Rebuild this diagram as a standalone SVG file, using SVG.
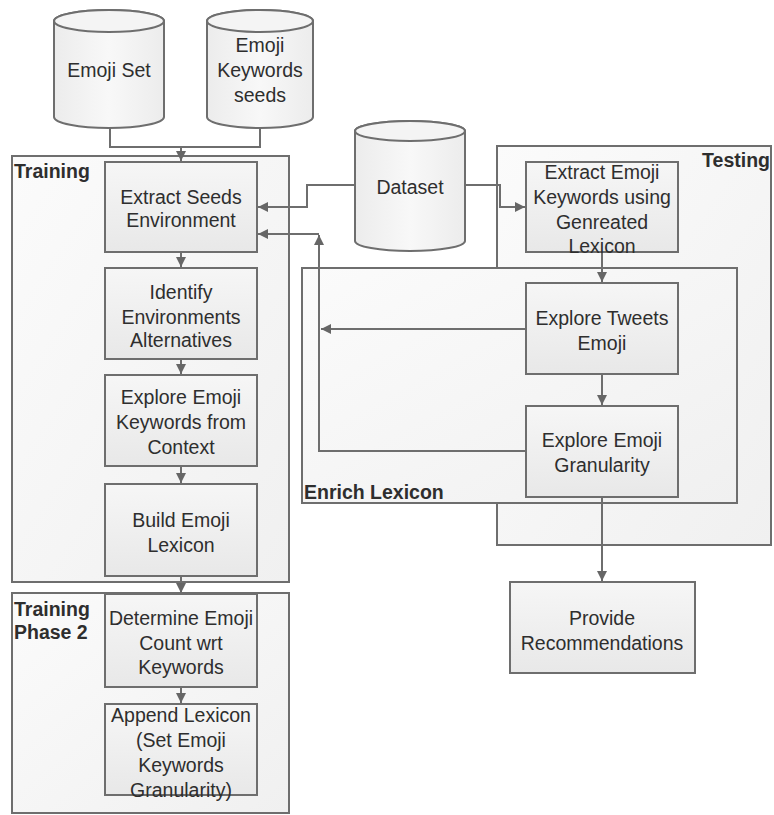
<svg xmlns="http://www.w3.org/2000/svg" width="774" height="815" viewBox="0 0 774 815">
<defs>
<linearGradient id="gBox" x1="0" y1="0" x2="0" y2="1">
<stop offset="0" stop-color="#f6f6f6"/><stop offset="1" stop-color="#e8e8e8"/>
</linearGradient>
<linearGradient id="gGrp" x1="0" y1="0" x2="1" y2="1">
<stop offset="0" stop-color="#fbfbfb"/><stop offset="1" stop-color="#f0f0f0"/>
</linearGradient>
<linearGradient id="gCyl" x1="0" y1="0" x2="1" y2="0">
<stop offset="0" stop-color="#ececec"/><stop offset="0.5" stop-color="#f8f8f8"/><stop offset="1" stop-color="#ececec"/>
</linearGradient>
<marker id="arr" markerUnits="userSpaceOnUse" markerWidth="11" markerHeight="10" refX="10" refY="5" orient="auto">
<path d="M0,0 L10,5 L0,10 z" fill="#666"/>
</marker>
</defs>
<style>
.grp{fill:url(#gGrp);stroke:#6e6e6e;stroke-width:2}
.box{fill:url(#gBox);stroke:#6e6e6e;stroke-width:2}
.cyl{fill:url(#gCyl);stroke:#6e6e6e;stroke-width:2}
.t{font-family:"Liberation Sans",Arial,sans-serif;font-size:19.5px;fill:#2e2e2e;text-anchor:middle}
.lbl{font-family:"Liberation Sans",Arial,sans-serif;font-size:19.5px;font-weight:bold;fill:#2e2e2e}
.c{fill:none;stroke:#6e6e6e;stroke-width:2}
.ca{fill:none;stroke:#6e6e6e;stroke-width:2;marker-end:url(#arr)}
</style>
<rect width="774" height="815" fill="#ffffff"/>

<g id="training">
<rect class="grp" x="12" y="156" width="277" height="426"/>
<text class="lbl" x="14" y="178">Training</text>
</g>
<g id="training-phase-2">
<rect class="grp" x="12" y="593" width="277" height="220"/>
<text class="lbl" x="14" y="616">Training</text>
<text class="lbl" x="14" y="639">Phase 2</text>
</g>
<g id="testing">
<rect class="grp" x="497" y="146" width="274" height="399"/>
<text class="lbl" x="770" y="167" text-anchor="end">Testing</text>
</g>
<g id="enrich-lexicon">
<rect class="grp" x="302" y="268" width="435" height="235"/>
<text class="lbl" x="304" y="499">Enrich Lexicon</text>
</g>

<g id="connectors">
<path class="c" d="M110,128 V147 H260 V128"/>
<path class="ca" d="M181,147 V161"/>
<path class="ca" d="M355,185 H307 V207 H258"/>
<path class="ca" d="M465,185 H500 V207 H525"/>
<path class="ca" d="M181,252 V267"/>
<path class="ca" d="M181,359 V374"/>
<path class="ca" d="M181,466 V483"/>
<path class="ca" d="M181,576 V593"/>
<path class="ca" d="M181,687 V703"/>
<path class="ca" d="M602,252 V282"/>
<path class="ca" d="M602,374 V405"/>
<path class="ca" d="M602,497 V581"/>
<path class="ca" d="M526,329 H321"/>
<path class="ca" d="M526,451 H319 V235"/>
<path class="ca" d="M319,234 H258"/>
</g>

<g id="emoji-set">
<path class="cyl" d="M54,21 V117 A55,11 0 0 0 164,117 V21 A55,11 0 0 0 54,21 Z"/>
<ellipse cx="109" cy="21" rx="55" ry="11" fill="#f4f4f4" stroke="#6e6e6e" stroke-width="2"/>
<text class="t" x="109" y="77" font-size="18.5">Emoji Set</text>
</g>
<g id="emoji-keywords-seeds">
<path class="cyl" d="M207,21 V117 A53,11 0 0 0 313,117 V21 A53,11 0 0 0 207,21 Z"/>
<ellipse cx="260" cy="21" rx="53" ry="11" fill="#f4f4f4" stroke="#6e6e6e" stroke-width="2"/>
<text class="t" x="260" y="52">Emoji</text>
<text class="t" x="260" y="77">Keywords</text>
<text class="t" x="260" y="102">seeds</text>
</g>
<g id="dataset">
<path class="cyl" d="M355,131 V241 A55,10 0 0 0 465,241 V131 A55,10 0 0 0 355,131 Z"/>
<ellipse cx="410" cy="131" rx="55" ry="10" fill="#f4f4f4" stroke="#6e6e6e" stroke-width="2"/>
<text class="t" x="410" y="194">Dataset</text>
</g>

<g id="extract-seeds">
<rect class="box" x="105" y="162" width="152" height="90"/>
<text class="t" x="181" y="204">Extract Seeds</text>
<text class="t" x="181" y="227">Environment</text>
</g>
<g id="identify-environments">
<rect class="box" x="105" y="268" width="152" height="91"/>
<text class="t" x="181" y="299">Identify</text>
<text class="t" x="181" y="324">Environments</text>
<text class="t" x="181" y="347">Alternatives</text>
</g>
<g id="explore-keywords">
<rect class="box" x="105" y="375" width="152" height="91"/>
<text class="t" x="181" y="404">Explore Emoji</text>
<text class="t" x="181" y="429">Keywords from</text>
<text class="t" x="181" y="454">Context</text>
</g>
<g id="build-lexicon">
<rect class="box" x="105" y="484" width="152" height="92"/>
<text class="t" x="181" y="527">Build Emoji</text>
<text class="t" x="181" y="552">Lexicon</text>
</g>
<g id="determine-count">
<rect class="box" x="105" y="594" width="152" height="93"/>
<text class="t" x="181" y="625">Determine Emoji</text>
<text class="t" x="181" y="650">Count wrt</text>
<text class="t" x="181" y="674">Keywords</text>
</g>
<g id="append-lexicon">
<rect class="box" x="105" y="704" width="152" height="91"/>
<text class="t" x="181" y="722">Append Lexicon</text>
<text class="t" x="181" y="747">(Set Emoji</text>
<text class="t" x="181" y="772">Keywords</text>
<text class="t" x="181" y="797">Granularity)</text>
</g>
<g id="extract-emoji-keywords">
<rect class="box" x="526" y="162" width="152" height="90"/>
<text class="t" x="602" y="179">Extract Emoji</text>
<text class="t" x="602" y="204">Keywords using</text>
<text class="t" x="602" y="229">Genreated</text>
<text class="t" x="602" y="253">Lexicon</text>
</g>
<g id="explore-tweets">
<rect class="box" x="526" y="283" width="152" height="91"/>
<text class="t" x="602" y="325">Explore Tweets</text>
<text class="t" x="602" y="350">Emoji</text>
</g>
<g id="explore-granularity">
<rect class="box" x="526" y="406" width="152" height="91"/>
<text class="t" x="602" y="447">Explore Emoji</text>
<text class="t" x="602" y="472">Granularity</text>
</g>
<g id="provide-recommendations">
<rect class="box" x="510" y="582" width="185" height="91"/>
<text class="t" x="602" y="625">Provide</text>
<text class="t" x="602" y="650">Recommendations</text>
</g>
</svg>
